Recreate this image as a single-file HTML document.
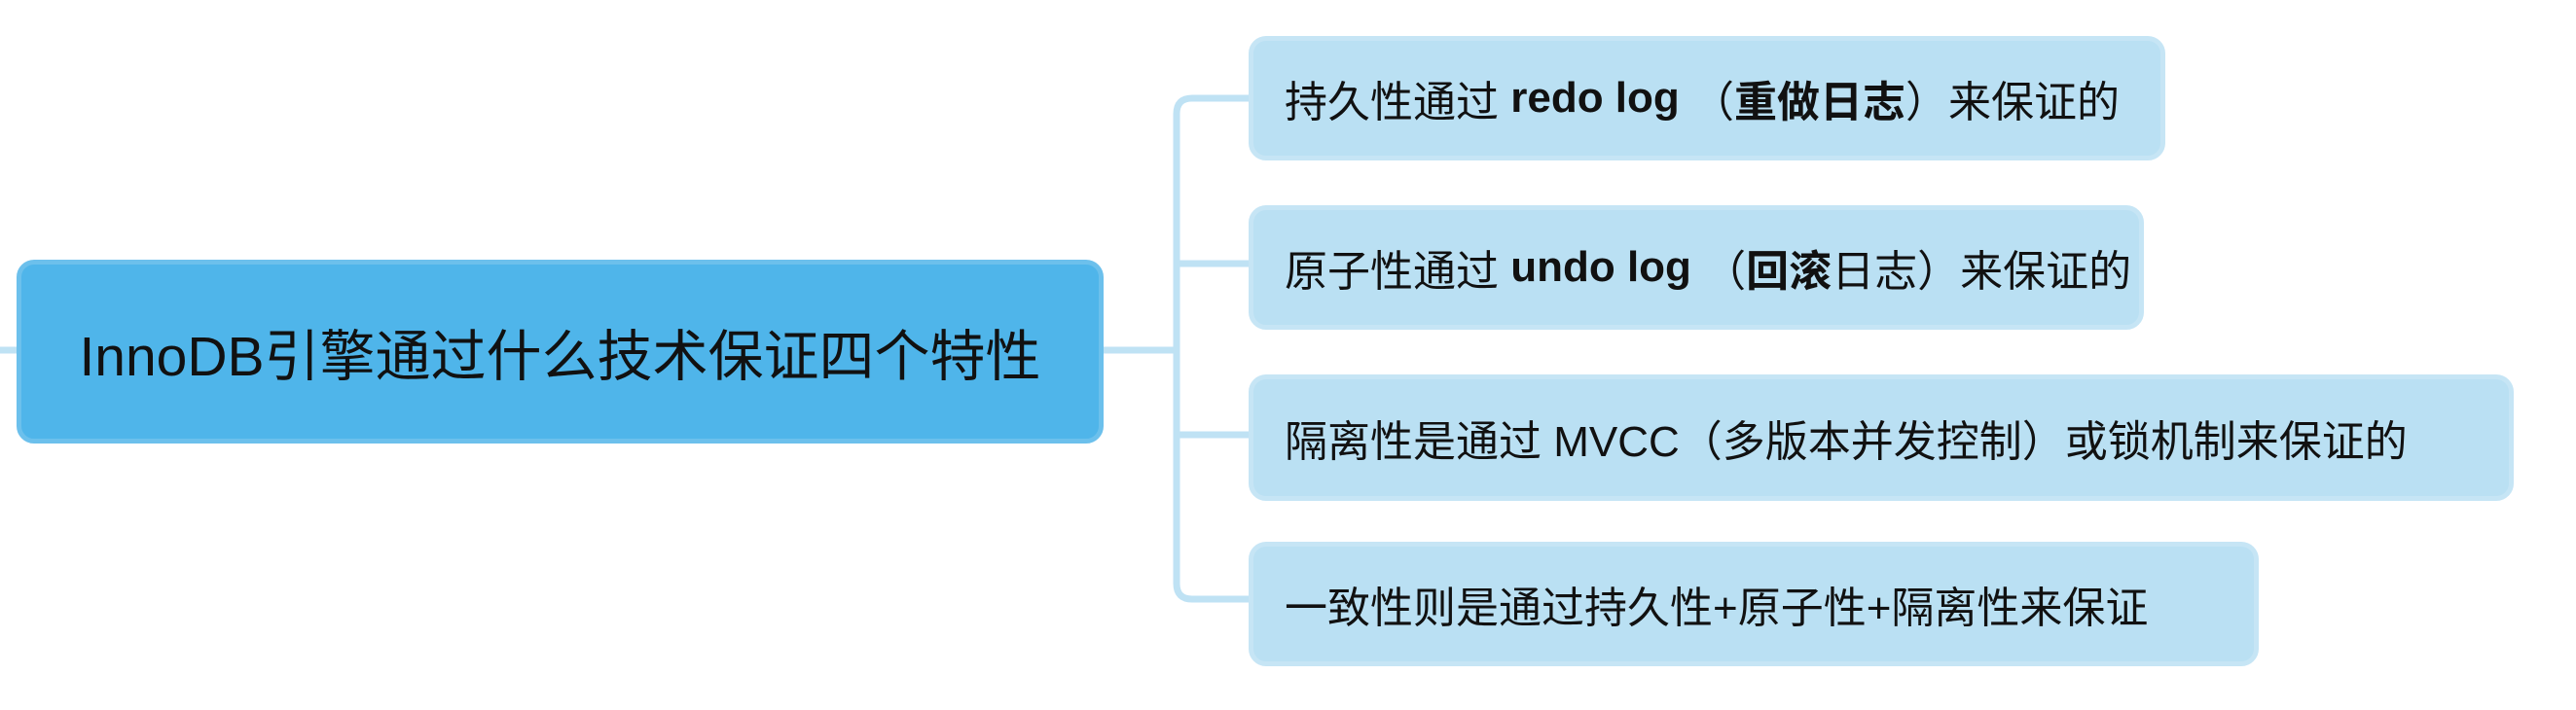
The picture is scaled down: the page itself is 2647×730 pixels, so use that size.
<!DOCTYPE html>
<html><head><meta charset="utf-8"><style>
body{margin:0;width:2647px;height:730px;background:#fff;position:relative;overflow:hidden;font-family:"Liberation Sans","Noto Sans CJK SC",sans-serif;}
.b{position:absolute;box-sizing:border-box;display:flex;align-items:center;color:#111;border-radius:18px;white-space:nowrap;}
.root{left:17px;top:267px;width:1117px;height:189px;background:#4fb5ea;border:5px solid #6cc0ec;font-size:57px;justify-content:center;}
.c{left:1283px;height:128px;background:#bae0f3;border:5px solid #c6e5f5;font-size:44px;padding-left:32px;}
</style></head><body>
<svg width="2647" height="730" style="position:absolute;left:0;top:0">
<g stroke="#bfe2f4" stroke-width="7" fill="none" stroke-linecap="round">
<path d="M1134 360 H1209"/>
<path d="M1283 101 H1225 Q1209 101 1209 117 V600 Q1209 616 1225 616 H1283"/>
<path d="M1209 271 H1283"/><path d="M1209 447 H1283"/>
<path d="M0 360 H17"/>
</g></svg>
<div class="b root">InnoDB引擎通过什么技术保证四个特性</div>
<div class="b c" style="top:37px;width:942px">持久性通过 <b>&nbsp;redo log&nbsp;</b>（<b>重做日志</b>）来保证的</div>
<div class="b c" style="top:211px;width:920px">原子性通过 <b>&nbsp;undo log&nbsp;</b>（<b>回滚</b>日志）来保证的</div>
<div class="b c" style="top:385px;width:1300px;height:130px">隔离性是通过 MVCC（多版本并发控制）或锁机制来保证的</div>
<div class="b c" style="top:557px;width:1038px">一致性则是通过持久性+原子性+隔离性来保证</div>
</body></html>
